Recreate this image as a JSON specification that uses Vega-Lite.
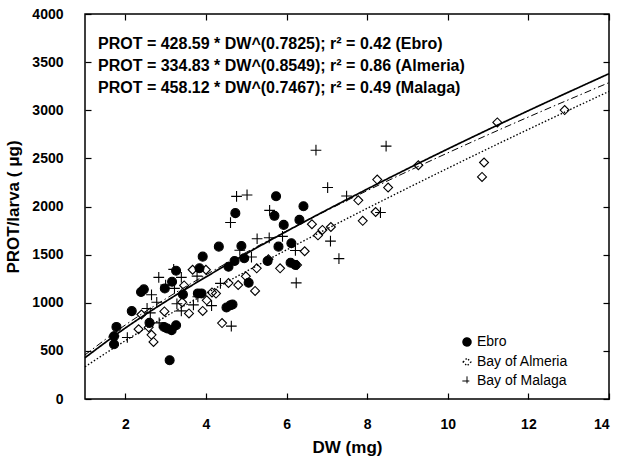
{
  "$schema": "https://vega.github.io/schema/vega-lite/v6.json",
  "width": 524,
  "height": 385,
  "autosize": {"type": "none"},
  "padding": {"left": 85, "top": 14, "right": 10, "bottom": 58},
  "background": "white",
  "config": {
    "font": "Liberation Sans",
    "view": {"stroke": "black", "strokeWidth": 1.5},
    "axis": {
      "domain": false,
      "grid": false,
      "tickColor": "black",
      "tickSize": -6,
      "tickWidth": 1.2,
      "labelFont": "Liberation Sans",
      "labelFontWeight": "bold",
      "labelFontSize": 14,
      "labelColor": "black",
      "titleFont": "Liberation Sans",
      "titleFontWeight": "bold",
      "titleFontSize": 17,
      "titleColor": "black"
    },
    "legend": {
      "labelFont": "Liberation Sans",
      "labelFontSize": 14,
      "labelColor": "black",
      "symbolStrokeWidth": 1.1,
      "symbolSize": 60,
      "rowPadding": 5,
      "labelOffset": 3,
      "padding": 0
    }
  },
  "title": {
    "text": [
      "PROT = 428.59 * DW^(0.7825); r² = 0.42 (Ebro)",
      "PROT = 334.83 * DW^(0.8549); r² = 0.86 (Almeria)",
      "PROT = 458.12 * DW^(0.7467); r² = 0.49 (Malaga)"
    ],
    "anchor": "start",
    "frame": "group",
    "orient": "top",
    "offset": -89,
    "dx": 13,
    "font": "Liberation Sans",
    "fontSize": 16,
    "fontWeight": "bold",
    "lineHeight": 22,
    "color": "black"
  },
  "datasets": {
    "fits": [
      {"curve": "Ebro", "dw": 1, "prot": 428.6},
      {"curve": "Ebro", "dw": 2, "prot": 737.2},
      {"curve": "Ebro", "dw": 3, "prot": 1012.5},
      {"curve": "Ebro", "dw": 4, "prot": 1267.9},
      {"curve": "Ebro", "dw": 5, "prot": 1510.1},
      {"curve": "Ebro", "dw": 6, "prot": 1741.7},
      {"curve": "Ebro", "dw": 8, "prot": 2180.8},
      {"curve": "Ebro", "dw": 10, "prot": 2597.6},
      {"curve": "Ebro", "dw": 12, "prot": 2995.6},
      {"curve": "Ebro", "dw": 14, "prot": 3380},
      {"curve": "Bay of Almeria", "dw": 1, "prot": 334.8},
      {"curve": "Bay of Almeria", "dw": 2, "prot": 605.6},
      {"curve": "Bay of Almeria", "dw": 3, "prot": 856.5},
      {"curve": "Bay of Almeria", "dw": 4, "prot": 1095.2},
      {"curve": "Bay of Almeria", "dw": 5, "prot": 1325.5},
      {"curve": "Bay of Almeria", "dw": 6, "prot": 1549.1},
      {"curve": "Bay of Almeria", "dw": 8, "prot": 1980.8},
      {"curve": "Bay of Almeria", "dw": 10, "prot": 2397.3},
      {"curve": "Bay of Almeria", "dw": 12, "prot": 2801.8},
      {"curve": "Bay of Almeria", "dw": 14, "prot": 3196},
      {"curve": "Bay of Malaga", "dw": 1, "prot": 458.1},
      {"curve": "Bay of Malaga", "dw": 2, "prot": 768.7},
      {"curve": "Bay of Malaga", "dw": 3, "prot": 1040.5},
      {"curve": "Bay of Malaga", "dw": 4, "prot": 1289.9},
      {"curve": "Bay of Malaga", "dw": 5, "prot": 1523.7},
      {"curve": "Bay of Malaga", "dw": 6, "prot": 1745.9},
      {"curve": "Bay of Malaga", "dw": 8, "prot": 2164.5},
      {"curve": "Bay of Malaga", "dw": 10, "prot": 2557.0},
      {"curve": "Bay of Malaga", "dw": 12, "prot": 2929.7},
      {"curve": "Bay of Malaga", "dw": 14, "prot": 3287}
    ],
    "points": [
      {"site": "Ebro", "dw": 1.78, "prot": 749},
      {"site": "Ebro", "dw": 1.72, "prot": 652},
      {"site": "Ebro", "dw": 1.72, "prot": 569},
      {"site": "Ebro", "dw": 2.16, "prot": 913},
      {"site": "Ebro", "dw": 2.39, "prot": 1111},
      {"site": "Ebro", "dw": 2.46, "prot": 1139},
      {"site": "Ebro", "dw": 2.6, "prot": 791},
      {"site": "Ebro", "dw": 2.96, "prot": 749},
      {"site": "Ebro", "dw": 3.04, "prot": 732},
      {"site": "Ebro", "dw": 3.15, "prot": 715},
      {"site": "Ebro", "dw": 3.26, "prot": 767},
      {"site": "Ebro", "dw": 3.1, "prot": 402},
      {"site": "Ebro", "dw": 2.98, "prot": 1149},
      {"site": "Ebro", "dw": 3.16, "prot": 1218},
      {"site": "Ebro", "dw": 3.26, "prot": 1333},
      {"site": "Ebro", "dw": 3.43, "prot": 1086},
      {"site": "Ebro", "dw": 3.8, "prot": 1097},
      {"site": "Ebro", "dw": 3.89, "prot": 1097},
      {"site": "Ebro", "dw": 3.84, "prot": 1358},
      {"site": "Ebro", "dw": 3.92, "prot": 1479},
      {"site": "Ebro", "dw": 4.51, "prot": 951},
      {"site": "Ebro", "dw": 4.61, "prot": 975},
      {"site": "Ebro", "dw": 4.66, "prot": 982},
      {"site": "Ebro", "dw": 4.56, "prot": 1374},
      {"site": "Ebro", "dw": 4.71, "prot": 1434},
      {"site": "Ebro", "dw": 4.95, "prot": 1462},
      {"site": "Ebro", "dw": 5.06, "prot": 1208},
      {"site": "Ebro", "dw": 5.53, "prot": 1434},
      {"site": "Ebro", "dw": 6.1, "prot": 1416},
      {"site": "Ebro", "dw": 6.22, "prot": 1392},
      {"site": "Ebro", "dw": 4.32, "prot": 1583},
      {"site": "Ebro", "dw": 4.88, "prot": 1590},
      {"site": "Ebro", "dw": 4.73, "prot": 1931},
      {"site": "Ebro", "dw": 5.74, "prot": 2106},
      {"site": "Ebro", "dw": 5.7, "prot": 1903},
      {"site": "Ebro", "dw": 5.93, "prot": 1809},
      {"site": "Ebro", "dw": 5.8, "prot": 1583},
      {"site": "Ebro", "dw": 6.12, "prot": 1618},
      {"site": "Ebro", "dw": 6.32, "prot": 1861},
      {"site": "Ebro", "dw": 6.42, "prot": 2002},
      {"site": "Bay of Almeria", "dw": 11.23, "prot": 2874},
      {"site": "Bay of Almeria", "dw": 12.9, "prot": 3002},
      {"site": "Bay of Almeria", "dw": 9.27, "prot": 2429},
      {"site": "Bay of Almeria", "dw": 10.9, "prot": 2457},
      {"site": "Bay of Almeria", "dw": 10.85, "prot": 2307},
      {"site": "Bay of Almeria", "dw": 8.25, "prot": 2280},
      {"site": "Bay of Almeria", "dw": 8.52, "prot": 2197},
      {"site": "Bay of Almeria", "dw": 7.78, "prot": 2064},
      {"site": "Bay of Almeria", "dw": 8.21, "prot": 1943},
      {"site": "Bay of Almeria", "dw": 7.89, "prot": 1851},
      {"site": "Bay of Almeria", "dw": 7.1, "prot": 1787},
      {"site": "Bay of Almeria", "dw": 6.63, "prot": 1816},
      {"site": "Bay of Almeria", "dw": 6.89, "prot": 1757},
      {"site": "Bay of Almeria", "dw": 6.78, "prot": 1700},
      {"site": "Bay of Almeria", "dw": 6.45, "prot": 1535},
      {"site": "Bay of Almeria", "dw": 6.26, "prot": 1392},
      {"site": "Bay of Almeria", "dw": 5.84, "prot": 1358},
      {"site": "Bay of Almeria", "dw": 5.26, "prot": 1358},
      {"site": "Bay of Almeria", "dw": 5.55, "prot": 1451},
      {"site": "Bay of Almeria", "dw": 4.99, "prot": 1275},
      {"site": "Bay of Almeria", "dw": 4.8, "prot": 1184},
      {"site": "Bay of Almeria", "dw": 4.56, "prot": 1205},
      {"site": "Bay of Almeria", "dw": 5.22, "prot": 1123},
      {"site": "Bay of Almeria", "dw": 4.4, "prot": 789},
      {"site": "Bay of Almeria", "dw": 3.67, "prot": 1343},
      {"site": "Bay of Almeria", "dw": 4.0, "prot": 1343},
      {"site": "Bay of Almeria", "dw": 3.46, "prot": 1180},
      {"site": "Bay of Almeria", "dw": 4.15, "prot": 1107},
      {"site": "Bay of Almeria", "dw": 4.25, "prot": 1095},
      {"site": "Bay of Almeria", "dw": 4.02, "prot": 1025},
      {"site": "Bay of Almeria", "dw": 3.92, "prot": 915},
      {"site": "Bay of Almeria", "dw": 3.58, "prot": 889},
      {"site": "Bay of Almeria", "dw": 3.41, "prot": 1005},
      {"site": "Bay of Almeria", "dw": 2.97, "prot": 910},
      {"site": "Bay of Almeria", "dw": 2.4, "prot": 878},
      {"site": "Bay of Almeria", "dw": 2.33, "prot": 725},
      {"site": "Bay of Almeria", "dw": 2.58, "prot": 745},
      {"site": "Bay of Almeria", "dw": 2.65, "prot": 667},
      {"site": "Bay of Almeria", "dw": 2.7, "prot": 593},
      {"site": "Bay of Malaga", "dw": 6.73, "prot": 2585},
      {"site": "Bay of Malaga", "dw": 7.02, "prot": 2197},
      {"site": "Bay of Malaga", "dw": 7.49, "prot": 2109},
      {"site": "Bay of Malaga", "dw": 4.76, "prot": 2105},
      {"site": "Bay of Malaga", "dw": 5.02, "prot": 2120},
      {"site": "Bay of Malaga", "dw": 5.58, "prot": 1960},
      {"site": "Bay of Malaga", "dw": 4.61, "prot": 1833},
      {"site": "Bay of Malaga", "dw": 5.27, "prot": 1665},
      {"site": "Bay of Malaga", "dw": 5.57, "prot": 1675},
      {"site": "Bay of Malaga", "dw": 5.9, "prot": 1690},
      {"site": "Bay of Malaga", "dw": 7.09, "prot": 1640},
      {"site": "Bay of Malaga", "dw": 6.22, "prot": 1543},
      {"site": "Bay of Malaga", "dw": 7.3, "prot": 1458},
      {"site": "Bay of Malaga", "dw": 4.84, "prot": 1545},
      {"site": "Bay of Malaga", "dw": 5.13, "prot": 1475},
      {"site": "Bay of Malaga", "dw": 6.24, "prot": 1206},
      {"site": "Bay of Malaga", "dw": 4.36, "prot": 1201},
      {"site": "Bay of Malaga", "dw": 8.47, "prot": 2627},
      {"site": "Bay of Malaga", "dw": 8.33, "prot": 1937},
      {"site": "Bay of Malaga", "dw": 3.2, "prot": 1347},
      {"site": "Bay of Malaga", "dw": 2.83, "prot": 1264},
      {"site": "Bay of Malaga", "dw": 3.39, "prot": 1264},
      {"site": "Bay of Malaga", "dw": 3.78, "prot": 1277},
      {"site": "Bay of Malaga", "dw": 3.0, "prot": 1184},
      {"site": "Bay of Malaga", "dw": 3.22, "prot": 1149},
      {"site": "Bay of Malaga", "dw": 2.65, "prot": 1083},
      {"site": "Bay of Malaga", "dw": 2.78, "prot": 1005},
      {"site": "Bay of Malaga", "dw": 2.54, "prot": 941},
      {"site": "Bay of Malaga", "dw": 2.62, "prot": 895},
      {"site": "Bay of Malaga", "dw": 3.28, "prot": 989},
      {"site": "Bay of Malaga", "dw": 3.39, "prot": 916},
      {"site": "Bay of Malaga", "dw": 3.69, "prot": 978},
      {"site": "Bay of Malaga", "dw": 4.14, "prot": 970},
      {"site": "Bay of Malaga", "dw": 4.63, "prot": 757},
      {"site": "Bay of Malaga", "dw": 2.05, "prot": 639},
      {"site": "Bay of Malaga", "dw": 2.84, "prot": 791},
      {"site": "Bay of Malaga", "dw": 1.72, "prot": 655},
      {"site": "Bay of Malaga", "dw": 3.8, "prot": 1062}
    ]
  },
  "layer": [
    {
      "data": {"name": "points"},
      "mark": {"type": "point", "filled": true, "strokeWidth": 1.1, "size": 80, "opacity": 1},
      "encoding": {
        "x": {"field": "dw", "type": "quantitative", "scale": {"domain": [1, 14], "nice": false, "zero": false},
              "axis": {"orient": "bottom", "title": "DW (mg)", "values": [2, 4, 6, 8, 10, 12, 14], "labelPadding": 24, "titlePadding": 8}},
        "y": {"field": "prot", "type": "quantitative", "scale": {"domain": [0, 4000], "nice": false},
              "axis": {"orient": "left", "title": "PROT/larva ( μg)", "format": "d", "values": [0, 500, 1000, 1500, 2000, 2500, 3000, 3500, 4000], "labelPadding": 28, "titlePadding": 9}},
        "shape": {"field": "site", "type": "nominal",
                  "scale": {"domain": ["Ebro", "Bay of Almeria", "Bay of Malaga"], "range": ["circle", "diamond", "M-1.2,0L1.2,0M0,-1.2L0,1.2"]},
                  "legend": {"title": null, "orient": "none", "legendX": 375, "legendY": 321}},
        "fill": {"field": "site", "type": "nominal",
                 "scale": {"domain": ["Ebro", "Bay of Almeria", "Bay of Malaga"], "range": ["black", "transparent", "transparent"]},
                 "legend": {"title": null, "orient": "none", "legendX": 375, "legendY": 321}},
        "stroke": {"field": "site", "type": "nominal",
                   "scale": {"domain": ["Ebro", "Bay of Almeria", "Bay of Malaga"], "range": ["black", "black", "black"]},
                   "legend": {"title": null, "orient": "none", "legendX": 375, "legendY": 321}}
      }
    },
    {
      "data": {"name": "fits"},
      "mark": {"type": "line", "color": "black", "interpolate": "monotone"},
      "encoding": {
        "x": {"field": "dw", "type": "quantitative",
              "axis": {"orient": "top", "labels": false, "title": null, "values": [2, 4, 6, 8, 10, 12, 14]}},
        "y": {"field": "prot", "type": "quantitative",
              "axis": {"orient": "right", "labels": false, "title": null, "values": [0, 500, 1000, 1500, 2000, 2500, 3000, 3500, 4000]}},
        "detail": {"field": "curve", "type": "nominal"},
        "strokeDash": {"field": "curve", "type": "nominal",
                       "scale": {"domain": ["Ebro", "Bay of Almeria", "Bay of Malaga"], "range": [[1, 0], [1.5, 2], [7, 3, 1.5, 3]]},
                       "legend": null},
        "strokeWidth": {"field": "curve", "type": "nominal",
                        "scale": {"domain": ["Ebro", "Bay of Almeria", "Bay of Malaga"], "range": [1.7, 1, 1]},
                        "legend": null}
      }
    }
  ],
  "resolve": {"axis": {"x": "independent", "y": "independent"}}
}
